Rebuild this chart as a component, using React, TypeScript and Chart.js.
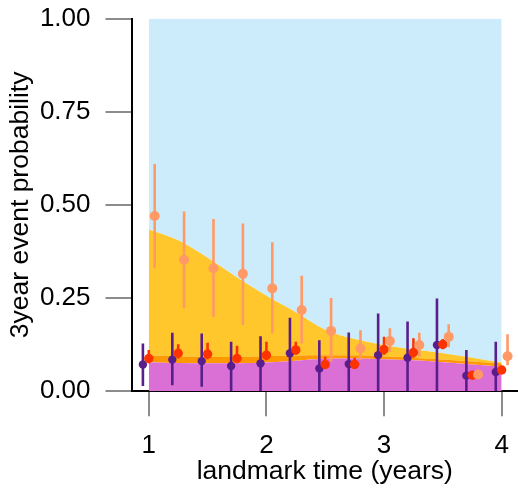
import React, { useEffect, useRef } from 'react';
import { Chart, registerables } from 'chart.js';
Chart.register(...registerables);

// landmark times (years)
const landmarks = [1, 1.25, 1.5, 1.75, 2, 2.25, 2.5, 2.75, 3, 3.25, 3.5, 3.75, 4];
const xTickValues = [1, 2, 3, 4];
const yTickValues = [0, 0.25, 0.5, 0.75, 1];

// stacked area upper edges
const purpleAreaTop = [0.078, 0.076, 0.075, 0.075, 0.077, 0.082, 0.087, 0.088, 0.086, 0.083, 0.078, 0.072, 0.066];
const orangeAreaTop = [0.096, 0.094, 0.092, 0.092, 0.094, 0.096, 0.097, 0.097, 0.094, 0.09, 0.085, 0.08, 0.075];
const goldAreaTop = [0.434, 0.405, 0.358, 0.305, 0.256, 0.212, 0.165, 0.14, 0.124, 0.112, 0.102, 0.09, 0.077];

// purple estimates with intervals
const purpleEst = [0.072, 0.085, 0.081, 0.068, 0.075, 0.102, 0.061, 0.073, 0.097, 0.09, 0.124, 0.042, 0.052];
const purpleLo = [0.014, 0.016, 0.012, 0, 0, 0, 0, 0, 0, 0, 0, 0, 0];
const purpleHi = [0.128, 0.157, 0.155, 0.133, 0.148, 0.197, 0.137, 0.158, 0.209, 0.187, 0.249, 0.111, 0.133];

// red estimates with intervals
const redEst = [0.088, 0.102, 0.1, 0.088, 0.097, 0.111, 0.072, 0.072, 0.112, 0.104, 0.126, 0.043, 0.057];
const redLo = [0.075, 0.088, 0.086, 0.075, 0.083, 0.098, 0.06, 0.06, 0.098, 0.09, 0.113, 0.035, 0.047];
const redHi = [0.111, 0.126, 0.13, 0.122, 0.133, 0.133, 0.093, 0.09, 0.146, 0.142, 0.14, 0.052, 0.068];

// salmon estimates with intervals
const salmonEst = [0.47, 0.353, 0.33, 0.315, 0.276, 0.218, 0.162, 0.115, 0.135, 0.124, 0.146, 0.045, 0.094];
const salmonLo = [0.33, 0.223, 0.2, 0.178, 0.155, 0.128, 0.08, 0.084, 0.106, 0.093, 0.118, 0.035, 0.07];
const salmonHi = [0.61, 0.482, 0.462, 0.45, 0.4, 0.31, 0.25, 0.164, 0.169, 0.157, 0.18, 0.055, 0.153];

const TICK_FONT = { family: "'Liberation Sans', Arial, sans-serif", size: 26 };
const TITLE_FONT = { family: "'Liberation Sans', Arial, sans-serif", size: 26.5 };

function pts(vals: number[], dx: number) {
  return landmarks.map((x, i) => ({ x: x + dx, y: vals[i] }));
}
function bars(lo: number[], hi: number[], dx: number) {
  const out: any[] = [];
  landmarks.forEach((x, i) => {
    out.push({ x: x + dx, y: lo[i] }, { x: x + dx, y: hi[i] }, { x: x + dx, y: null });
  });
  return out;
}

export default function App() {
  const ref = useRef<HTMLCanvasElement | null>(null);
  useEffect(() => {
    document.body.style.margin = '0';
    if (!ref.current) return;
    const area = (data: number[], color: string, fill: any) => ({
      data: pts(data, 0),
      borderWidth: 0,
      pointRadius: 0,
      backgroundColor: color,
      borderColor: 'rgba(0,0,0,0)',
      fill,
      cubicInterpolationMode: 'monotone',
      order: 10,
    });
    const barSet = (lo: number[], hi: number[], dx: number, color: string, order: number) => ({
      data: bars(lo, hi, dx),
      borderColor: color,
      borderWidth: 2.6,
      pointRadius: 0,
      spanGaps: false,
      fill: false,
      order,
    });
    const ptSet = (est: number[], dx: number, color: string, r: number, order: number) => ({
      data: pts(est, dx),
      showLine: false,
      pointRadius: r,
      pointBackgroundColor: color,
      pointBorderWidth: 0,
      fill: false,
      order,
    });
    const chart = new Chart(ref.current, {
      type: 'line',
      data: {
        datasets: [
          area(purpleAreaTop, '#DA70D6', 'origin'),
          area(orangeAreaTop, '#FF9900', '-1'),
          area(goldAreaTop, '#FFC72C', '-1'),
          area(goldAreaTop, '#CCEBFB', 'end'),
          barSet(purpleLo, purpleHi, -0.05, '#5A1E8C', 6),
          ptSet(purpleEst, -0.05, '#5A1E8C', 4.2, 5),
          barSet(redLo, redHi, 0, '#FF3300', 4),
          ptSet(redEst, 0, '#FF3300', 4.7, 3),
          barSet(salmonLo, salmonHi, 0.05, '#FF9966', 2),
          ptSet(salmonEst, 0.05, '#FF9966', 5, 1),
        ] as any,
      },
      options: {
        responsive: false,
        animation: false,
        devicePixelRatio: 1,
        layout: { autoPadding: false, padding: { top: 18.5, right: 0, left: 0, bottom: 0 } },
        plugins: { legend: { display: false }, tooltip: { enabled: false } },
        scales: {
          x: {
            type: 'linear',
            min: 0.853,
            max: 4.139,
            afterBuildTicks: (s: any) => { s.ticks = xTickValues.map((v) => ({ value: v })); },
            afterFit: (s: any) => { s.height = 96.7; s.paddingLeft = 0; s.paddingRight = 0; },
            ticks: { font: TICK_FONT, color: '#000', padding: 14, callback: (v: any) => String(v) },
            grid: { drawOnChartArea: false, drawTicks: true, tickLength: 25, color: '#8c8c8c', lineWidth: 2 },
            border: { display: true, color: '#000', width: 2 },
            title: { display: true, text: 'landmark time (years)', font: TITLE_FONT, color: '#000', padding: { top: 0, bottom: 0 } },
          },
          y: {
            type: 'linear',
            min: 0,
            max: 1,
            afterBuildTicks: (s: any) => { s.ticks = yTickValues.map((v) => ({ value: v })); },
            afterFit: (s: any) => { s.width = 131.5; s.paddingTop = 0; s.paddingBottom = 0; },
            ticks: { font: TICK_FONT, color: '#000', padding: 15, callback: (v: any) => Number(v).toFixed(2) },
            grid: { drawOnChartArea: false, drawTicks: true, tickLength: 26, color: '#8c8c8c', lineWidth: 2 },
            border: { display: true, color: '#000', width: 2 },
            title: { display: true, text: '3year event probability', font: TITLE_FONT, color: '#000', padding: { top: 5, bottom: 0 } },
          },
        },
      } as any,
    });
    return () => chart.destroy();
  }, []);
  return <canvas ref={ref} width={518} height={488} style={{ display: 'block', width: 518, height: 488 }} />;
}
